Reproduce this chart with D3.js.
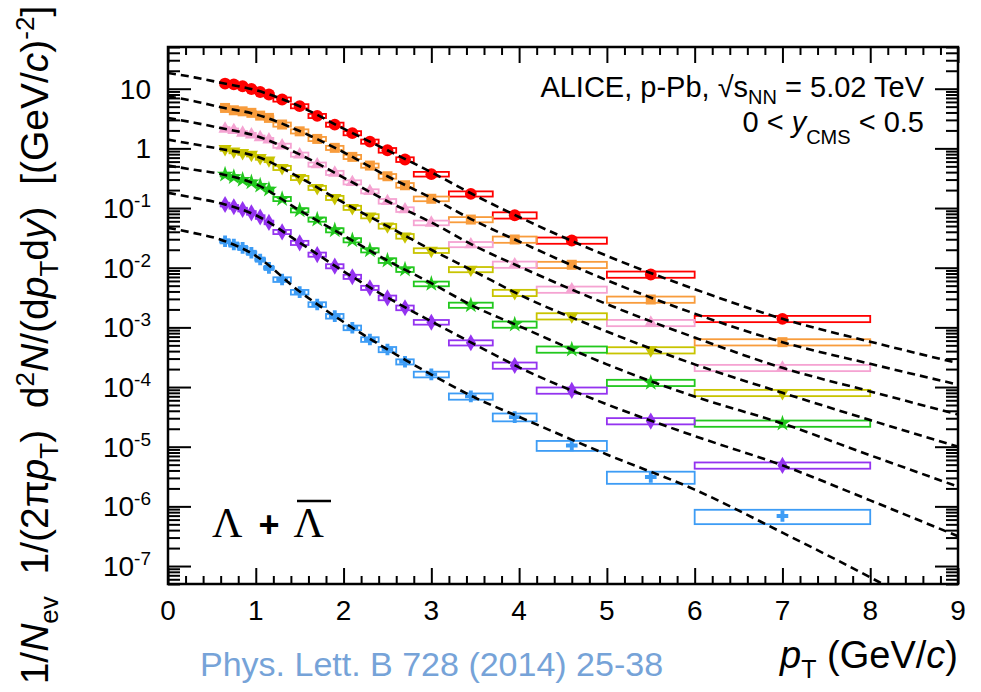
<!DOCTYPE html>
<html>
<head>
<meta charset="utf-8">
<script src="https://cdn.jsdelivr.net/npm/d3@7"></script>
<style>
  html, body { margin: 0; padding: 0; background: #ffffff; }
  svg { display: block; font-family: "Liberation Sans", Arial, Helvetica, sans-serif; }
</style>
</head>
<body>
<svg id="chart" width="981" height="692"></svg>
<script>
// pT bins (GeV/c) of the Lambda + anti-Lambda spectra
const binLow  = [0.6, 0.7, 0.8, 0.9, 1.0, 1.1, 1.2, 1.4, 1.6, 1.8, 2.0, 2.2, 2.4, 2.6, 2.8, 3.2, 3.7, 4.2, 5.0, 6.0];
const binHigh = [0.7, 0.8, 0.9, 1.0, 1.1, 1.2, 1.4, 1.6, 1.8, 2.0, 2.2, 2.4, 2.6, 2.8, 3.2, 3.7, 4.2, 5.0, 6.0, 8.0];
const binCenter = [0.65, 0.75, 0.85, 0.95, 1.05, 1.15, 1.3, 1.5, 1.7, 1.9, 2.1, 2.3, 2.5, 2.7, 3.0, 3.45, 3.95, 4.6, 5.5, 7.0];

// invariant yields per multiplicity class (scaled), highest class first
const yieldClass1 = [12.2, 11.8, 11.0, 9.9, 8.8, 8.0, 6.6, 5.1, 3.5, 2.5, 1.8, 1.3, 0.93, 0.65, 0.37, 0.173, 0.0757, 0.0286, 0.0077, 0.00139];
const yieldClass2 = [4.76, 4.35, 4.18, 3.94, 3.54, 3.24, 2.51, 1.93, 1.44, 1.02, 0.72, 0.515, 0.341, 0.241, 0.143, 0.0641, 0.0297, 0.0112, 0.00293, 5.65e-4];
const yieldClass3 = [2.12, 2.01, 1.82, 1.70, 1.53, 1.40, 1.11, 0.787, 0.536, 0.389, 0.270, 0.191, 0.130, 0.0944, 0.0565, 0.0245, 0.0113, 0.00431, 0.00119, 2.1e-4];
const yieldClass4 = [0.98, 0.89, 0.84, 0.787, 0.693, 0.632, 0.471, 0.32, 0.218, 0.148, 0.101, 0.073, 0.0496, 0.0337, 0.0194, 0.00933, 0.0038, 0.00154, 4.15e-4, 8.0e-5];
const yieldClass5 = [0.364, 0.332, 0.299, 0.270, 0.238, 0.205, 0.142, 0.0918, 0.0641, 0.0425, 0.0289, 0.0196, 0.0132, 0.00933, 0.00537, 0.00236, 0.00112, 4.27e-4, 1.18e-4, 2.45e-5];
const yieldClass6 = [0.1145, 0.105, 0.0944, 0.0831, 0.0708, 0.0575, 0.0398, 0.0261, 0.0166, 0.0106, 0.00705, 0.0046, 0.00313, 0.00213, 0.00122, 5.52e-4, 2.3e-4, 8.77e-5, 2.69e-5, 4.86e-6];
const yieldClass7 = [0.0278, 0.0245, 0.0215, 0.0178, 0.0137, 0.00995, 0.00634, 0.00389, 0.00242, 0.00154, 9.85e-4, 6.27e-4, 4.26e-4, 2.65e-4, 1.63e-4, 6.97e-5, 3.13e-5, 1.05e-5, 3.1e-6, 6.9e-7];

// relative systematic uncertainties (boxes)
const sysRel    = [0.07, 0.07, 0.07, 0.07, 0.07, 0.07, 0.08, 0.08, 0.08, 0.08, 0.08, 0.08, 0.09, 0.09, 0.09, 0.10, 0.12, 0.12, 0.12, 0.12];
const sysRelLow = [0.08, 0.08, 0.08, 0.08, 0.08, 0.08, 0.09, 0.09, 0.09, 0.09, 0.09, 0.09, 0.10, 0.10, 0.11, 0.12, 0.15, 0.19, 0.23, 0.27];

// fit functions, sampled along pT
const fitPt = [0, 0.3, 0.6, 1.0, 1.5, 2.0, 2.5, 3.0, 3.5, 4.0, 5.0, 6.0, 7.0, 8.0, 9.0];
const fitClass1 = [18.4, 15.5, 12.6, 9.44, 5.07, 2.14, 0.929, 0.398, 0.162, 0.0708, 0.0158, 0.00437, 0.00139, 5.75e-4, 2.51e-4];
const fitClass2 = [7.46, 6.17, 4.90, 3.72, 1.95, 0.861, 0.341, 0.148, 0.0603, 0.0275, 0.00617, 0.0017, 5.65e-4, 2.45e-4, 1.10e-4];
const fitClass3 = [3.24, 2.69, 2.19, 1.62, 0.794, 0.324, 0.130, 0.0575, 0.0229, 0.0105, 0.00245, 6.76e-4, 2.10e-4, 8.45e-5, 3.47e-5];
const fitClass4 = [1.40, 1.17, 0.977, 0.741, 0.324, 0.123, 0.0496, 0.0200, 0.00851, 0.00355, 8.51e-4, 2.40e-4, 8.0e-5, 2.79e-5, 1.0e-5];
const fitClass5 = [0.515, 0.437, 0.372, 0.251, 0.0912, 0.0347, 0.0132, 0.0055, 0.00219, 0.00105, 2.40e-4, 6.92e-5, 2.45e-5, 7.18e-6, 2.14e-6];
const fitClass6 = [0.18, 0.148, 0.120, 0.0759, 0.0263, 0.0087, 0.00316, 0.00126, 5.13e-4, 2.14e-4, 5.13e-5, 1.51e-5, 4.86e-6, 1.26e-6, 3.16e-7];
const fitClass7 = [0.0466, 0.038, 0.0295, 0.0158, 0.00398, 0.00123, 4.27e-4, 1.62e-4, 6.61e-5, 3.16e-5, 7.41e-6, 1.91e-6, 3.63e-7, 6.46e-8, 1.0e-8];

// axis ticks
const xMajorTicks = [0, 1, 2, 3, 4, 5, 6, 7, 8, 9];
const yMajorTicks = [1e1, 1, 1e-1, 1e-2, 1e-3, 1e-4, 1e-5, 1e-6, 1e-7];
const yTickBase = ["10", "1", "10", "10", "10", "10", "10", "10", "10"];
const yTickExp  = ["", "", "-1", "-2", "-3", "-4", "-5", "-6", "-7"];

const series = [
  { values: yieldClass1, fit: fitClass1, sys: sysRel,    color: "#ff0000", symbol: d3.symbolCircle,   size: 110, rotate: 0 },
  { values: yieldClass2, fit: fitClass2, sys: sysRel,    color: "#f89c3c", symbol: d3.symbolSquare,   size: 100, rotate: 0 },
  { values: yieldClass3, fit: fitClass3, sys: sysRel,    color: "#f5a3d2", symbol: d3.symbolTriangle, size: 75,  rotate: 0 },
  { values: yieldClass4, fit: fitClass4, sys: sysRel,    color: "#c8c400", symbol: d3.symbolTriangle, size: 75,  rotate: 180 },
  { values: yieldClass5, fit: fitClass5, sys: sysRel,    color: "#22c81e", symbol: d3.symbolStar,     size: 85,  rotate: 0 },
  { values: yieldClass6, fit: fitClass6, sys: sysRel,    color: "#9433f0", symbol: d3.symbolDiamond,  size: 85,  rotate: 0 },
  { values: yieldClass7, fit: fitClass7, sys: sysRelLow, color: "#3d9cf5", symbol: d3.symbolCross,    size: 75,  rotate: 0 }
];

const frame = { left: 168, right: 958, top: 47, bottom: 584 };

const svg = d3.select("#chart");
const x = d3.scaleLinear().domain([0, 9]).range([frame.left, frame.right]);
const y = d3.scaleLog().domain([5e-8, 50]).range([frame.bottom, frame.top]);

svg.append("defs").append("clipPath").attr("id", "plot-clip")
  .append("rect")
  .attr("x", frame.left).attr("y", frame.top)
  .attr("width", frame.right - frame.left).attr("height", frame.bottom - frame.top);

const plot = svg.append("g").attr("clip-path", "url(#plot-clip)");

// systematic uncertainty boxes
series.forEach(s => {
  plot.append("g").selectAll("rect")
    .data(s.values.map((v, i) => ({ v, i })))
    .join("rect")
    .attr("x", d => x(binLow[d.i]))
    .attr("width", d => x(binHigh[d.i]) - x(binLow[d.i]))
    .attr("y", d => y(d.v * (1 + s.sys[d.i])))
    .attr("height", d => y(d.v * (1 - s.sys[d.i])) - y(d.v * (1 + s.sys[d.i])))
    .attr("fill", "none")
    .attr("stroke", s.color)
    .attr("stroke-width", 1.8);
});

// markers
series.forEach(s => {
  plot.append("g").selectAll("path")
    .data(s.values.map((v, i) => ({ v, pt: binCenter[i] })))
    .join("path")
    .attr("d", d3.symbol().type(s.symbol).size(s.size))
    .attr("transform", d => `translate(${x(d.pt)},${y(d.v)}) rotate(${s.rotate})`)
    .attr("fill", s.color);
});

// fit curves
const fitLine = d3.line()
  .x(d => x(d.pt))
  .y(d => y(d.v))
  .curve(d3.curveMonotoneX);
series.forEach(s => {
  plot.append("path")
    .datum(s.fit.map((v, i) => ({ v, pt: fitPt[i] })))
    .attr("d", fitLine)
    .attr("fill", "none")
    .attr("stroke", "#000")
    .attr("stroke-width", 2.6)
    .attr("stroke-dasharray", "8,5");
});

// ticks on all four sides
const xMinor = d3.range(0, 9.0001, 0.2).filter(v => Math.abs(v - Math.round(v)) > 1e-6);
const yMinor = [];
for (let e = -8; e <= 1; e++) for (let m = 2; m <= 9; m++) {
  const v = m * Math.pow(10, e);
  if (v >= 5e-8 && v <= 50) yMinor.push(v);
}
function tickSet(axis, tr, values, size) {
  const g = svg.append("g").attr("transform", tr)
    .call(axis.tickValues(values).tickSize(size).tickFormat(""));
  g.select(".domain").remove();
  g.selectAll(".tick line").attr("stroke", "#000").attr("stroke-width", 2);
}
tickSet(d3.axisTop(x),    `translate(0,${frame.bottom})`, xMajorTicks, 16);
tickSet(d3.axisTop(x),    `translate(0,${frame.bottom})`, xMinor, 8);
tickSet(d3.axisBottom(x), `translate(0,${frame.top})`,    xMajorTicks, 16);
tickSet(d3.axisBottom(x), `translate(0,${frame.top})`,    xMinor, 8);
tickSet(d3.axisRight(y),  `translate(${frame.left},0)`,   yMajorTicks, 23);
tickSet(d3.axisRight(y),  `translate(${frame.left},0)`,   yMinor, 12);
tickSet(d3.axisLeft(y),   `translate(${frame.right},0)`,  yMajorTicks, 23);
tickSet(d3.axisLeft(y),   `translate(${frame.right},0)`,  yMinor, 12);

svg.append("rect")
  .attr("x", frame.left).attr("y", frame.top)
  .attr("width", frame.right - frame.left).attr("height", frame.bottom - frame.top)
  .attr("fill", "none").attr("stroke", "#000").attr("stroke-width", 2.5);

// tick labels
svg.append("g").selectAll("text")
  .data(xMajorTicks).join("text")
  .attr("x", d => x(d)).attr("y", 620)
  .attr("text-anchor", "middle")
  .attr("font-size", 28)
  .text(d => d);

const yLab = svg.append("g").selectAll("text")
  .data(yMajorTicks.map((v, i) => ({ v, base: yTickBase[i], exp: yTickExp[i] })))
  .join("text")
  .attr("x", 151).attr("y", d => y(d.v) + 10)
  .attr("text-anchor", "end")
  .attr("font-size", 28);
yLab.append("tspan").text(d => d.base);
yLab.append("tspan").attr("dy", -11).attr("font-size", 19).text(d => d.exp);

// axis titles
const xt = svg.append("text").attr("x", 958).attr("y", 668)
  .attr("text-anchor", "end").attr("font-size", 38);
xt.append("tspan").attr("font-style", "italic").text("p");
xt.append("tspan").attr("font-size", 25).attr("dy", 10).text("T");
xt.append("tspan").attr("dy", -10).text(" (GeV/");
xt.append("tspan").attr("font-style", "italic").text("c");
xt.append("tspan").text(")");

const yt = svg.append("text")
  .attr("transform", "translate(48,345) rotate(-90)")
  .attr("text-anchor", "middle").attr("font-size", 39)
  .style("white-space", "pre");
const ytParts = [
  ["1/", 0, null], ["N", 0, "i"], ["ev", 10, "s"], ["  1/(2\u03c0", -10, null], ["p", 0, "i"], ["T", 10, "s"],
  [")  d", -10, null], ["2", -14, "s"], ["N", 14, "i"], ["/(d", 0, null], ["p", 0, "i"], ["T", 10, "s"],
  ["d", -10, null], ["y", 0, "i"], [")  [(GeV/", 0, null], ["c", 0, "i"], [")", 0, null], ["-2", -14, "s"], ["]", 14, null]
];
ytParts.forEach(([t, dy, kind]) => {
  const ts = yt.append("tspan").attr("dy", dy).text(t);
  if (kind === "i") ts.attr("font-style", "italic");
  if (kind === "s") ts.attr("font-size", 26);
});

// collision system label
const l1 = svg.append("text").attr("x", 924).attr("y", 97)
  .attr("text-anchor", "end").attr("font-size", 29);
l1.append("tspan").text("ALICE, p-Pb, ");
l1.append("tspan").text("\u221a");
l1.append("tspan").text("s");
l1.append("tspan").attr("font-size", 20).attr("dy", 7).text("NN");
l1.append("tspan").attr("dy", -7).text(" = 5.02 TeV");

const l2 = svg.append("text").attr("x", 924).attr("y", 132)
  .attr("text-anchor", "end").attr("font-size", 29);
l2.append("tspan").text("0 < ");
l2.append("tspan").attr("font-style", "italic").text("y");
l2.append("tspan").attr("font-size", 20).attr("dy", 12).text("CMS");
l2.append("tspan").attr("dy", -12).text(" < 0.5");

// particle label
const serif = "'Liberation Serif', 'Times New Roman', 'DejaVu Serif', serif";
const pl = svg.append("text").attr("x", 212).attr("y", 537)
  .style("font-family", serif).attr("font-size", 42);
pl.append("tspan").text("\u039b");
pl.append("tspan").style("font-family", "'Liberation Sans', Arial, sans-serif")
  .attr("font-weight", "bold").attr("font-size", 36).attr("dx", 16).text("+");
pl.append("tspan").attr("dx", 14).text("\u039b");
svg.append("line").attr("x1", 297).attr("x2", 331).attr("y1", 501).attr("y2", 501)
  .attr("stroke", "#000").attr("stroke-width", 2.4);

// publication reference
svg.append("text").attr("x", 200).attr("y", 676)
  .attr("font-size", 34).attr("fill", "#76a3d8")
  .text("Phys. Lett. B 728 (2014) 25-38");
</script>
</body>
</html>
